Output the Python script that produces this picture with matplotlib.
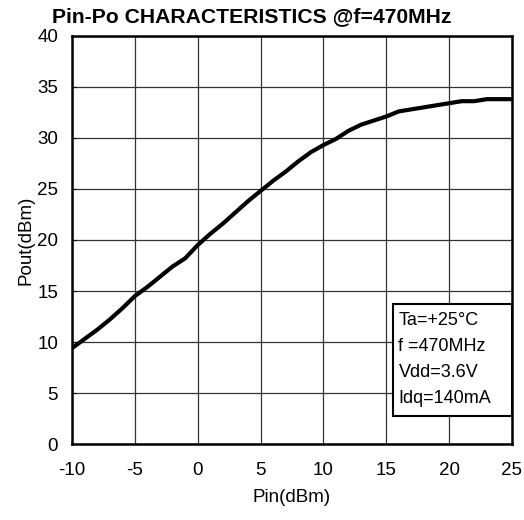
import matplotlib.pyplot as plt

plt.rcParams['font.family'] = ['Liberation Sans', 'DejaVu Sans']
plt.rcParams['axes.unicode_minus'] = False

# Pin (dBm) and Pout (dBm)
pin = [-10, -9, -8, -7, -6, -5, -4, -3, -2, -1, 0, 1, 2, 3, 4, 5, 6, 7, 8,
       9, 10, 11, 12, 13, 14, 15, 16, 17, 18, 19, 20, 21, 22, 23, 24, 25]
pout = [9.4, 10.3, 11.2, 12.2, 13.3, 14.5, 15.4, 16.4, 17.4, 18.2, 19.5,
        20.6, 21.6, 22.7, 23.8, 24.8, 25.8, 26.7, 27.7, 28.6, 29.3, 29.9,
        30.7, 31.3, 31.7, 32.1, 32.6, 32.8, 33.0, 33.2, 33.4, 33.6, 33.6,
        33.8, 33.8, 33.8]

x_ticks = [-10, -5, 0, 5, 10, 15, 20, 25]
y_ticks = [0, 5, 10, 15, 20, 25, 30, 35, 40]
conditions = ["Ta=+25°C", "f =470MHz", "Vdd=3.6V", "Idq=140mA"]

fig = plt.figure(figsize=(5.24, 5.2), dpi=100)
ax = fig.add_axes([0.1374, 0.146, 0.8396, 0.785])

ax.plot(pin, pout, color='black', linewidth=3, zorder=3)

ax.set_xlim(-10, 25)
ax.set_ylim(0, 40)
ax.set_xticks(x_ticks)
ax.set_yticks(y_ticks)
ax.grid(True, color='#333333', linewidth=0.9)
ax.tick_params(axis='x', direction='in', length=0, pad=13, labelsize=13.5)
ax.tick_params(axis='y', direction='in', length=3, pad=10, labelsize=13.5)
for sp in ax.spines.values():
    sp.set_linewidth(1.8)

ax.set_xlabel("Pin(dBm)", fontsize=13.5, labelpad=7)
ax.set_ylabel("Pout(dBm)", fontsize=13.5, labelpad=2)

fig.text(0.481, 0.987, "Pin-Po CHARACTERISTICS @f=470MHz",
         ha='center', va='top', fontsize=15.2, fontweight='bold')

# conditions box
box = plt.Rectangle((0.729, 0.07), 0.27, 0.272, transform=ax.transAxes,
                    facecolor='white', edgecolor='black', linewidth=1.5,
                    zorder=4)
ax.add_patch(box)
for i, line in enumerate(conditions):
    ax.text(0.742, 0.302 - i * 0.0637, line, transform=ax.transAxes,
            ha='left', va='center', fontsize=13, zorder=5)

fig.savefig("out.png", dpi=100)
